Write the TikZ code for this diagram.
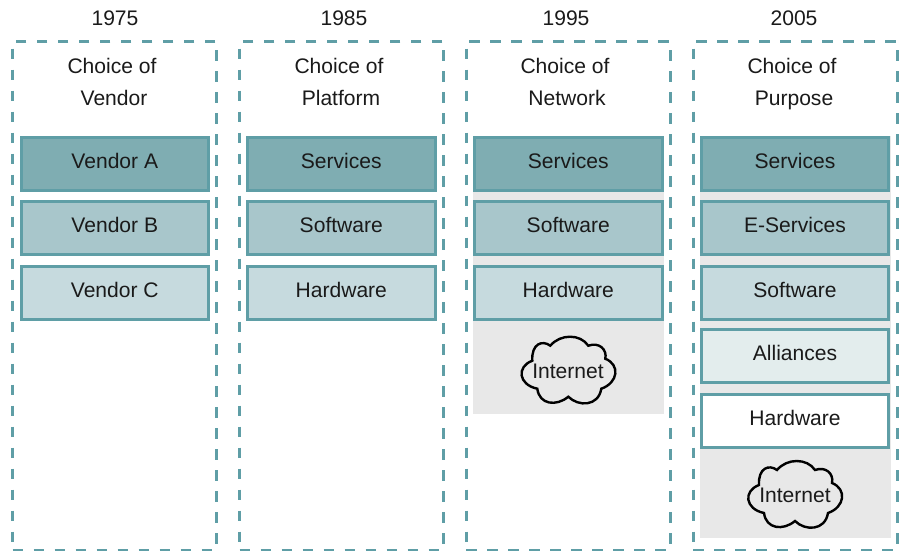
\documentclass[tikz,border=0pt]{standalone}
\usepackage{fontspec}
\setmainfont{Liberation Sans}
\definecolor{edge}{HTML}{5F9EA6}
\definecolor{fa}{HTML}{7FADB2}
\definecolor{fb}{HTML}{A8C6CB}
\definecolor{fc}{HTML}{C6DADE}
\definecolor{fd}{HTML}{E3EDED}
\definecolor{gr}{HTML}{E8E8E8}
\definecolor{ink}{HTML}{1A1A1A}
\newcommand{\lblfont}{\fontsize{15.8pt}{19pt}\selectfont}
\newcommand{\cloudoutline}{(-36,-9) .. controls (-37,-26) and (-26,-30) .. (-18,-24)
 .. controls (-8,-36) and (12,-36) .. (20,-24)
 .. controls (31,-28) and (39,-20) .. (37,-11)
 .. controls (52,-5) and (50,13) .. (33,19)
 .. controls (30,37) and (10,37) .. (0,27)
 .. controls (-12,37) and (-29,35) .. (-31,19)
 .. controls (-50,15) and (-52,-3) .. cycle}
\tikzset{
 x=0.75pt,y=-0.75pt,
 column/.style={draw=edge,line width=2pt,dash pattern=on 8pt off 7.75pt,minimum width=153pt,minimum height=381.5pt,inner sep=0pt,outer sep=0pt,anchor=north west},
 cellbox/.style={draw=edge,line width=2.25pt,minimum width=140.7pt,minimum height=39.75pt,inner sep=0pt,text=ink,anchor=north west,font=\lblfont,text height=12pt,text depth=5pt},
 labeltext/.style={font=\lblfont,text=ink,anchor=base,inner sep=0pt},
 netback/.style={fill=gr,draw=none},
 cloudline/.style={draw=black,line width=1.8pt,fill=gr},
}
\begin{document}
\begin{tikzpicture}
\useasboundingbox (0,0) rectangle (899,551);
% grey backgrounds
\fill[netback] (473.3,136) rectangle (664,414);
\fill[netback] (700,136) rectangle (890.7,538);
% columns
\node[column] (c1) at (12.7,41.3) {};
\node[column] (c2) at (239.7,41.3) {};
\node[column] (c3) at (466.3,41.3) {};
\node[column] (c4) at (693.3,41.3) {};
% years
\node[labeltext] (y1) at (115,25) {1975};
\node[labeltext] (y2) at (344,25) {1985};
\node[labeltext] (y3) at (566,25) {1995};
\node[labeltext] (y4) at (794,25) {2005};
% headings
\node[labeltext] (h1a) at (112,73) {Choice of};
\node[labeltext] (h1b) at (114,105) {Vendor};
\node[labeltext] (h2a) at (339,73) {Choice of};
\node[labeltext] (h2b) at (341,105) {Platform};
\node[labeltext] (h3a) at (565,73) {Choice of};
\node[labeltext] (h3b) at (567,105) {Network};
\node[labeltext] (h4a) at (792,73) {Choice of};
\node[labeltext] (h4b) at (794,105) {Purpose};
% col 1
\node[cellbox,fill=fa] (a1) at (19.5,136) {Vendor A};
\node[cellbox,fill=fb] (a2) at (19.5,200) {Vendor B};
\node[cellbox,fill=fc] (a3) at (19.5,265) {Vendor C};
% col 2
\node[cellbox,fill=fa] (b1) at (246,136) {Services};
\node[cellbox,fill=fb] (b2) at (246,200) {Software};
\node[cellbox,fill=fc] (b3) at (246,265) {Hardware};
% col 3
\node[cellbox,fill=fa] (d1) at (473,136) {Services};
\node[cellbox,fill=fb] (d2) at (473,200) {Software};
\node[cellbox,fill=fc] (d3) at (473,265) {Hardware};
\draw[cloudline,shift={(568.3,369.7)}] \cloudoutline;
\node[labeltext] (net3) at (568,378) {Internet};
% col 4
\node[cellbox,fill=fa] (e1) at (699.7,136) {Services};
\node[cellbox,fill=fb] (e2) at (699.7,200) {E-Services};
\node[cellbox,fill=fc] (e3) at (699.7,265) {Software};
\node[cellbox,fill=fd] (e4) at (699.7,328) {Alliances};
\node[cellbox,fill=white] (e5) at (699.7,393) {Hardware};
\draw[cloudline,shift={(795,494)}] \cloudoutline;
\node[labeltext] (net4) at (795,502) {Internet};
\end{tikzpicture}
\end{document}
